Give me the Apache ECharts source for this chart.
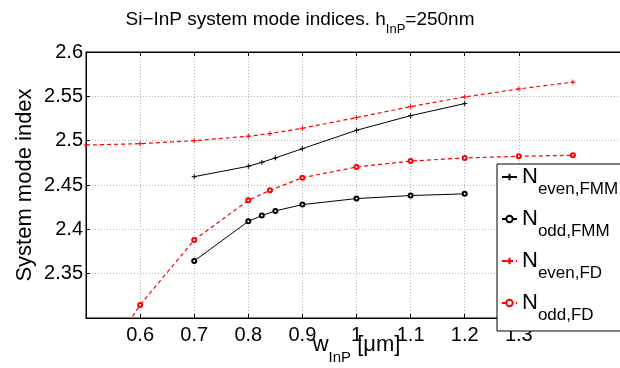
<!DOCTYPE html>
<html><head><meta charset="utf-8">
<script src="https://cdn.jsdelivr.net/npm/echarts@6/dist/echarts.min.js"></script>
<style>html,body{margin:0;padding:0;background:#fff}#c{width:620px;height:368px}</style>
</head><body><div id="c"></div>
<script>
// ---- data ----
const xFMM = [0.7, 0.8, 0.825, 0.85, 0.9, 1.0, 1.1, 1.2];
const yEvenFMM = [2.4594, 2.4711, 2.4756, 2.4805, 2.491, 2.5117, 2.5282, 2.5418];
const yOddFMM = [2.3643, 2.409, 2.4155, 2.4208, 2.4279, 2.4347, 2.4381, 2.44];
const xFD = [0.5, 0.6, 0.7, 0.8, 0.84, 0.9, 1.0, 1.1, 1.2, 1.3, 1.4];
const yEvenFD = [2.4951, 2.4966, 2.5, 2.505, 2.508, 2.514, 2.526, 2.5384, 2.5493, 2.5583, 2.566];
const yOddFD = [2.2228, 2.3147, 2.388, 2.4327, 2.444, 2.4582, 2.4703, 2.477, 2.4805, 2.4824, 2.4835];
const xTicks = [0.6, 0.7, 0.8, 0.9, 1.0, 1.1, 1.2, 1.3];
const seriesNames = ['N_even,FMM', 'N_odd,FMM', 'N_even,FD', 'N_odd,FD'];

const FF = 'Liberation Sans, Arial, Helvetica, sans-serif';
const pair = (xs, ys) => xs.map((x, i) => [x, ys[i]]);
const PLUS = 'path://M5,0L5,10M0,5L10,5';

function mk(name, xs, ys, color, dashed, sym) {
  return {
    name, type: 'line', data: pair(xs, ys), clip: true,
    symbol: sym === 'plus' ? PLUS : 'emptyCircle',
    symbolSize: sym === 'plus' ? 5 : 4,
    color: color,
    itemStyle: { color: color, borderColor: color, borderWidth: 1 },
    lineStyle: { color: color, width: dashed ? 1.2 : 1, type: dashed ? [4, 3] : 'solid' },
    emphasis: { disabled: true }, animation: false
  };
}

const chart = echarts.init(document.getElementById('c'), null, { renderer: 'canvas' });
chart.setOption({
  animation: false,
  backgroundColor: '#fff',
  textStyle: { fontFamily: FF },
  title: {
    text: '{m|Si\u2212InP system mode indices. h}{s|InP}{m|=250nm}',
    left: 300, top: 10.5, textAlign: 'center', padding: 0,
    textStyle: {
      fontWeight: 'normal',
      rich: {
        m: { fontSize: 19, lineHeight: 19, verticalAlign: 'top', fontFamily: FF, color: '#000', fontWeight: 'normal' },
        s: { fontSize: 13, lineHeight: 13, verticalAlign: 'top', padding: [12, 0, 0, 0], fontFamily: FF, color: '#000', fontWeight: 'normal' }
      }
    }
  },
  grid: { left: 86, top: 52, width: 541, height: 266, show: true, borderColor: '#000', borderWidth: 1,
    containLabel: false, outerBoundsMode: 'none' },
  legend: {
    orient: 'vertical', left: 497, top: 164,
    padding: [2, 40, 1, 4], itemGap: 4, itemWidth: 15, itemHeight: 8,
    backgroundColor: '#fff', borderColor: '#000', borderWidth: 1, borderRadius: 0,
    data: seriesNames,
    formatter: n => { const p = n.split('_'); return '{n|' + p[0] + '}{s|' + p[1] + '}'; },
    textStyle: {
      rich: {
        n: { fontSize: 22, lineHeight: 22, verticalAlign: 'top', fontFamily: FF, color: '#000' },
        s: { fontSize: 17, lineHeight: 17, verticalAlign: 'top', padding: [15, 0, 6, 0], fontFamily: FF, color: '#000' }
      }
    }
  },
  xAxis: [{
    type: 'value', min: 0.5, max: 1.5, interval: 0.1,
    name: '{w|w}{s|InP}{b| [\u03bcm]}', nameLocation: 'middle', nameGap: 16, nameMoveOverlap: false,
    nameTextStyle: {
      rich: {
        w: { fontSize: 22, lineHeight: 22, verticalAlign: 'top', fontFamily: FF, color: '#000' },
        s: { fontSize: 15, lineHeight: 15, verticalAlign: 'top', padding: [16, 0, 0, 0], fontFamily: FF, color: '#000' },
        b: { fontSize: 22, lineHeight: 22, verticalAlign: 'top', fontFamily: FF, color: '#000' }
      }
    },
    axisLine: { show: true, onZero: false, lineStyle: { color: '#000', width: 1 } },
    axisTick: { show: true, inside: true, length: 4, customValues: xTicks, lineStyle: { color: '#000' } },
    axisLabel: { customValues: xTicks, fontSize: 20, color: '#000', margin: 7, fontFamily: FF,
      formatter: v => String(+v.toFixed(2)) },
    splitLine: { show: true, lineStyle: { color: '#b4b4b4', type: [1, 2], width: 1 } }
  }, {
    type: 'value', position: 'top', min: 0.5, max: 1.5, interval: 0.1,
    axisLine: { show: true, onZero: false, lineStyle: { color: '#000', width: 1 } },
    axisTick: { show: true, inside: true, length: 4, customValues: xTicks, lineStyle: { color: '#000' } },
    axisLabel: { show: false }, splitLine: { show: false }
  }],
  yAxis: {
    type: 'value', min: 2.3, max: 2.6, interval: 0.05,
    name: 'System mode index', nameLocation: 'middle', nameGap: 50, nameMoveOverlap: false,
    nameTextStyle: { fontSize: 22, color: '#000', fontFamily: FF },
    axisLine: { show: true, onZero: false, lineStyle: { color: '#000', width: 1 } },
    axisTick: { show: true, inside: true, length: 4, lineStyle: { color: '#000' } },
    axisLabel: { fontSize: 20, color: '#000', margin: 3, fontFamily: FF,
      formatter: v => (v < 2.31 ? '' : String(+v.toFixed(2))) },
    splitLine: { show: true, lineStyle: { color: '#b4b4b4', type: [1, 2], width: 1 } }
  },
  series: [
    mk(seriesNames[0], xFMM, yEvenFMM, '#000', false, 'plus'),
    mk(seriesNames[1], xFMM, yOddFMM, '#000', false, 'circle'),
    mk(seriesNames[2], xFD, yEvenFD, '#ff0000', true, 'plus'),
    mk(seriesNames[3], xFD, yOddFD, '#ff0000', true, 'circle')
  ]
});
</script></body></html>
